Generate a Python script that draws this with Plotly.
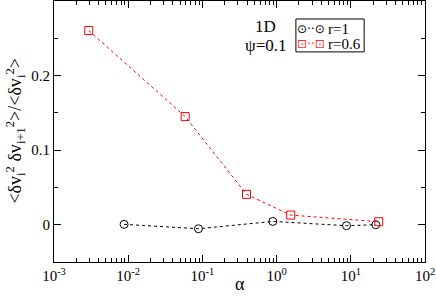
import plotly.graph_objects as go

alpha_r1 = [0.0088, 0.0885, 0.89, 8.75, 21.7]
val_r1 = [0.0005, -0.0054, 0.0044, -0.0013, 0.0]
alpha_r06 = [0.00294, 0.0586, 0.393, 1.55, 23.8]
val_r06 = [0.2604, 0.145, 0.0407, 0.0129, 0.004]

xtick_vals = [1e-3, 1e-2, 1e-1, 1, 10, 100]
xtick_text = ["10<sup>-3</sup>", "10<sup>-2</sup>", "10<sup>-1</sup>", "10<sup>0</sup>", "10<sup>1</sup>", "10<sup>2</sup>"]
xminor_vals = [m * d for d in [1e-3, 1e-2, 1e-1, 1, 10] for m in range(2, 10)]
ytick_vals = [0, 0.1, 0.2]
ytick_text = ["0", "0.1", "0.2"]

font = "Liberation Serif, Times New Roman, serif"

fig = go.Figure()
fig.add_trace(go.Scatter(x=alpha_r1, y=val_r1, mode="lines+markers", name="r=1",
                         line=dict(color="black", width=1, dash="dot"),
                         marker=dict(symbol="circle-open", size=8, color="black", line=dict(width=1))))
fig.add_trace(go.Scatter(x=alpha_r06, y=val_r06, mode="lines+markers", name="r=0.6",
                         line=dict(color="#ff0000", width=1, dash="dot"),
                         marker=dict(symbol="square-open", size=8, color="#ff0000", line=dict(width=1))))

legend_names = ["r=1", "r=0.6"]
legend_syms = ["<span style='color:black'>⊙··⊙</span>", "<span style='color:#ff3030'>⊡··⊡</span>"]
legend_y = [0.893, 0.835]

annotations = [
    dict(text="1D", x=0.57, y=0.902, xref="paper", yref="paper", showarrow=False,
         font=dict(size=17), xanchor="center", yanchor="middle"),
    dict(text="ψ=0.1", x=0.57, y=0.83, xref="paper", yref="paper", showarrow=False,
         font=dict(size=17), xanchor="center", yanchor="middle"),
    dict(text="α", x=0.5, y=-0.131, xref="paper", yref="paper", showarrow=False,
         font=dict(size=18), xanchor="center", yanchor="bottom"),
    dict(text="&lt;δv<sub>i</sub><sup>2</sup> δv<sub>i+1</sub><sup>2</sup>&gt;/&lt;δv<sub>i</sub><sup>2</sup>&gt;",
         x=-0.105, y=0.5, xref="paper", yref="paper", showarrow=False, textangle=-90,
         font=dict(size=18), xanchor="center", yanchor="middle"),
]
for name, sym, yy in zip(legend_names, legend_syms, legend_y):
    annotations.append(dict(text=sym, x=0.693, y=yy, xref="paper", yref="paper", showarrow=False,
                            font=dict(size=12, family="DejaVu Sans"), xanchor="center", yanchor="middle"))
    annotations.append(dict(text=name, x=0.734, y=yy, xref="paper", yref="paper", showarrow=False,
                            font=dict(size=15), xanchor="left", yanchor="middle"))

fig.update_layout(
    width=436, height=297,
    margin=dict(l=54, r=11, t=1, b=35, autoexpand=False),
    paper_bgcolor="white", plot_bgcolor="white",
    font=dict(family=font, size=15, color="black"),
    showlegend=False,
    annotations=annotations,
    shapes=[dict(type="rect", xref="paper", yref="paper", x0=0.652, x1=0.836, y0=0.805, y1=0.931,
                 line=dict(color="black", width=1), fillcolor="rgba(0,0,0,0)")],
)
fig.update_xaxes(type="log", range=[-3, 2], showline=True, linecolor="black", linewidth=1,
                 mirror="allticks", ticks="inside", ticklen=7, tickcolor="black",
                 tickvals=xtick_vals, ticktext=xtick_text, showgrid=False, zeroline=False,
                 automargin=False, tickfont=dict(size=15),
                 minor=dict(ticks="inside", ticklen=4, tickcolor="black", showgrid=False,
                            tickmode="array", tickvals=xminor_vals))
fig.update_yaxes(range=[-0.05, 0.3], showline=True, linecolor="black", linewidth=1,
                 mirror="allticks", ticks="inside", ticklen=7, tickcolor="black",
                 tickvals=ytick_vals, ticktext=ytick_text, showgrid=False, zeroline=False,
                 automargin=False, tickfont=dict(size=15),
                 minor=dict(ticks="inside", ticklen=4, tickcolor="black", dtick=0.05,
                            tick0=0, showgrid=False))

fig.write_html("out.html", config={"displayModeBar": False},
               post_script="document.body.style.margin='0';document.body.style.padding='0';")
